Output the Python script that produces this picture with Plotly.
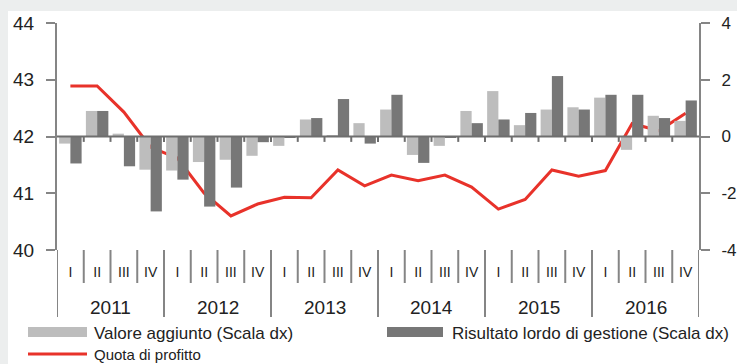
import plotly.graph_objects as go

# Quarterly data, 2011-2016
years = ["2011", "2012", "2013", "2014", "2015", "2016"]
quarters = ["I", "II", "III", "IV"]

# Valore aggiunto, % change (right scale)
valore_aggiunto = [
    -0.25, 0.90, 0.10, -1.17,
    -1.20, -0.90, -0.82, -0.68,
    -0.33, 0.60, 0.03, 0.47,
    0.95, -0.65, -0.33, 0.90,
    1.60, 0.40, 0.95, 1.03,
    1.37, -0.47, 0.73, 0.55,
]

# Risultato lordo di gestione, % change (right scale)
risultato_lordo = [
    -0.95, 0.90, -1.05, -2.64,
    -1.52, -2.47, -1.80, -0.20,
    -0.05, 0.65, 1.32, -0.25,
    1.47, -0.93, -0.05, 0.47,
    0.60, 0.83, 2.13, 0.95,
    1.47, 1.47, 0.65, 1.27,
]

# Quota di profitto, % (left scale)
quota_profitto = [
    42.89, 42.89, 42.43, 41.81,
    41.62, 41.00, 40.60, 40.81,
    40.93, 40.92, 41.41, 41.13,
    41.32, 41.22, 41.32, 41.11,
    40.72, 40.89, 41.41, 41.30,
    41.40, 42.23, 42.10, 42.41,
]

left_ticks = [40, 41, 42, 43, 44]
right_ticks = [-4, -2, 0, 2, 4]
right_labels = ["-4", "-2", "0", "2", "4"]

LIGHT = "#bdbdbd"
DARK = "#777777"
RED = "#e8322a"
AXIS = "#858585"
TEXT = "#222222"
FONT = "Liberation Sans, Arial, sans-serif"

W, H = 737, 364
ML, MR, MT, MB = 57, 38, 23, 114
PW, PH = W - ML - MR, H - MT - MB

def xp(px):
    return (px - ML) / PW

def yp(py):
    return (H - MB - py) / PH

n = len(quota_profitto)
xs = list(range(n))
qlabels = [quarters[i % 4] for i in xs]

fig = go.Figure()
fig.add_trace(go.Bar(x=xs, y=valore_aggiunto, yaxis="y2", marker_color=LIGHT,
                     marker_line_width=0, name="Valore aggiunto (Scala dx)"))
fig.add_trace(go.Bar(x=xs, y=risultato_lordo, yaxis="y2", marker_color=DARK,
                     marker_line_width=0, name="Risultato lordo di gestione (Scala dx)"))
fig.add_trace(go.Scatter(x=xs, y=quota_profitto, yaxis="y", mode="lines",
                         line=dict(color=RED, width=3), name="Quota di profitto"))

shapes = []
# background bands
shapes.append(dict(type="rect", xref="paper", yref="paper", x0=xp(0), x1=xp(W),
                   y0=yp(0), y1=yp(11), fillcolor="#eceeee", line_width=0, layer="below"))
shapes.append(dict(type="rect", xref="paper", yref="paper", x0=xp(0), x1=xp(8),
                   y0=yp(H), y1=yp(0), fillcolor="#eceeee", line_width=0, layer="below"))
# zero line of the right scale
shapes.append(dict(type="line", xref="x", yref="y2", x0=-0.5, x1=n - 0.5, y0=0, y1=0,
                   line=dict(color="#6e6e6e", width=2), layer="above"))
for i in range(n - 1):
    b = i + 0.5
    # small ticks under the zero line
    shapes.append(dict(type="line", xref="x", yref="y2", x0=b, x1=b, y0=0, y1=-0.19,
                       line=dict(color="#6e6e6e", width=2)))
    # quarter / year dividers below the plot
    bottom = yp(317) if (i + 1) % 4 == 0 else yp(283)
    shapes.append(dict(type="line", xref="x", yref="paper", x0=b, x1=b, y0=0, y1=bottom,
                       line=dict(color=AXIS, width=2)))
# axis lines extended below the plot
for xe in (-0.5, n - 0.5):
    shapes.append(dict(type="line", xref="x", yref="paper", x0=xe, x1=xe, y0=0, y1=yp(317),
                       line=dict(color=AXIS, width=2)))

# legend swatches
shapes.append(dict(type="rect", xref="paper", yref="paper", x0=xp(28), x1=xp(87),
                   y0=yp(337), y1=yp(327), fillcolor=LIGHT, line_width=0))
shapes.append(dict(type="rect", xref="paper", yref="paper", x0=xp(387), x1=xp(443),
                   y0=yp(337), y1=yp(327), fillcolor=DARK, line_width=0))
shapes.append(dict(type="line", xref="paper", yref="paper", x0=xp(28), x1=xp(87),
                   y0=yp(354), y1=yp(354), line=dict(color=RED, width=3)))

annotations = []
for k, yr in enumerate(years):
    annotations.append(dict(x=4 * k + 1.5, xref="x", y=yp(307), yref="paper", text=yr,
                            showarrow=False, xanchor="center", yanchor="middle",
                            font=dict(size=19, color=TEXT, family=FONT)))
legend_items = [("Valore aggiunto (Scala dx)", 92, 333, 17),
                ("Risultato lordo di gestione (Scala dx)", 450, 333, 17),
                ("Quota di profitto", 92, 354, 15)]
for txt, lx, ly, fs in legend_items:
    annotations.append(dict(x=xp(lx), xref="paper", y=yp(ly), yref="paper", text=txt,
                            showarrow=False, xanchor="left", yanchor="middle",
                            font=dict(size=fs, color=TEXT, family=FONT)))

fig.update_layout(
    width=W, height=H,
    margin=dict(l=ML, r=MR, t=MT, b=MB, autoexpand=False),
    paper_bgcolor="white", plot_bgcolor="white",
    barmode="group", bargap=0.16, bargroupgap=0.0,
    showlegend=False,
    shapes=shapes, annotations=annotations,
    xaxis=dict(range=[-0.5, n - 0.5], tickvals=xs, ticktext=qlabels, ticks="",
               showgrid=False, zeroline=False, showline=False, automargin=False,
               ticklabelstandoff=12,
               tickfont=dict(size=14, color=TEXT, family=FONT)),
    yaxis=dict(range=[40, 44], tickvals=left_ticks, ticks="outside", ticklen=9,
               tickwidth=2, tickcolor=AXIS, showline=True, linecolor=AXIS, linewidth=2,
               showgrid=False, zeroline=False, ticklabelstandoff=8, automargin=False,
               tickfont=dict(size=19, color=TEXT, family=FONT)),
    yaxis2=dict(range=[-4, 4], tickvals=right_ticks, ticktext=right_labels,
                overlaying="y", side="right",
                ticks="outside", ticklen=9, tickwidth=2, tickcolor=AXIS,
                showline=True, linecolor=AXIS, linewidth=2, showgrid=False,
                zeroline=False, ticklabelstandoff=8, automargin=False,
                tickfont=dict(size=17, color=TEXT, family=FONT)),
)

fig.write_html("out.html")
